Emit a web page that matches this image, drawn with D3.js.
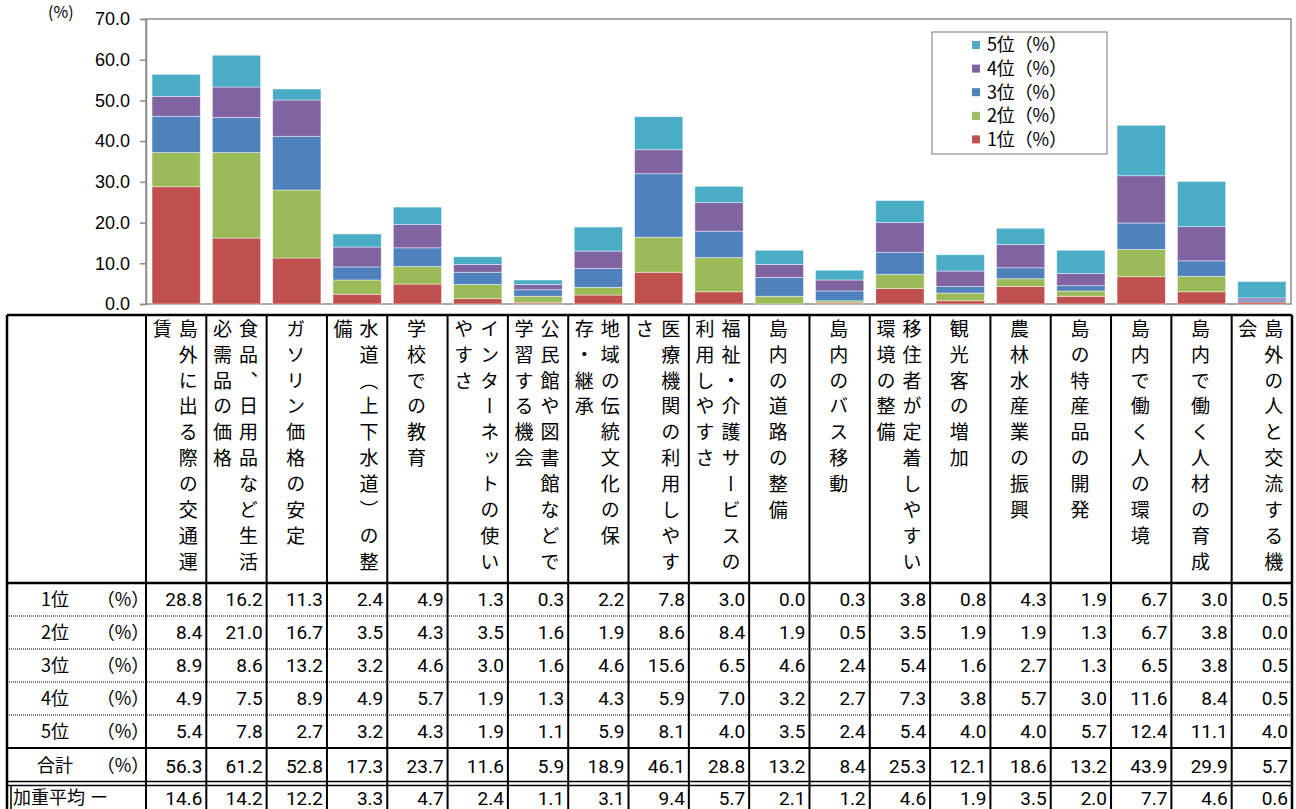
<!DOCTYPE html>
<html><head><meta charset="utf-8">
<script src="https://cdn.jsdelivr.net/npm/d3@7"></script>
<style>
body{margin:0;background:#fff;}
svg{display:block;}
</style></head>
<body>
<svg id="c" width="1296" height="809"></svg>
<script>
const labelLines = [
 ["島外に出る際の交通運","賃"],
 ["食品、日用品など生活","必需品の価格"],
 ["ガソリン価格の安定"],
 ["水道（上下水道）の整","備"],
 ["学校での教育"],
 ["インターネットの使い","やすさ"],
 ["公民館や図書館などで","学習する機会"],
 ["地域の伝統文化の保","存・継承"],
 ["医療機関の利用しやす","さ"],
 ["福祉・介護サービスの","利用しやすさ"],
 ["島内の道路の整備"],
 ["島内のバス移動"],
 ["移住者が定着しやすい","環境の整備"],
 ["観光客の増加"],
 ["農林水産業の振興"],
 ["島の特産品の開発"],
 ["島内で働く人の環境"],
 ["島内で働く人材の育成"],
 ["島外の人と交流する機","会"]
];
const categories = labelLines.map(d => d.join(""));
const rank1 = [28.8,16.2,11.3,2.4,4.9,1.3,0.3,2.2,7.8,3.0,0.0,0.3,3.8,0.8,4.3,1.9,6.7,3.0,0.5];
const rank2 = [8.4,21.0,16.7,3.5,4.3,3.5,1.6,1.9,8.6,8.4,1.9,0.5,3.5,1.9,1.9,1.3,6.7,3.8,0.0];
const rank3 = [8.9,8.6,13.2,3.2,4.6,3.0,1.6,4.6,15.6,6.5,4.6,2.4,5.4,1.6,2.7,1.3,6.5,3.8,0.5];
const rank4 = [4.9,7.5,8.9,4.9,5.7,1.9,1.3,4.3,5.9,7.0,3.2,2.7,7.3,3.8,5.7,3.0,11.6,8.4,0.5];
const rank5 = [5.4,7.8,2.7,3.2,4.3,1.9,1.1,5.9,8.1,4.0,3.5,2.4,5.4,4.0,4.0,5.7,12.4,11.1,4.0];
const totals = [56.3,61.2,52.8,17.3,23.7,11.6,5.9,18.9,46.1,28.8,13.2,8.4,25.3,12.1,18.6,13.2,43.9,29.9,5.7];
const weighted = [14.6,14.2,12.2,3.3,4.7,2.4,1.1,3.1,9.4,5.7,2.1,1.2,4.6,1.9,3.5,2.0,7.7,4.6,0.6];
const seriesNames = ["1位（%）","2位（%）","3位（%）","4位（%）","5位（%）"];
const seriesColors = ["#C0504D","#9BBB59","#4F81BD","#8064A2","#4BACC6"];
const yTicks = [0,10,20,30,40,50,60,70];
const rowHeads = [["1位","（%）"],["2位","（%）"],["3位","（%）"],["4位","（%）"],["5位","（%）"],["合計","（%）"],["加重平均","ー"]];

(function(){
const svg = d3.select("#c");
const jp = "'Noto Sans CJK JP', sans-serif";
const num = "Roboto,'Liberation Sans',sans-serif";

const pL = 146, pR = 1292, pT = 19, pB = 304;
const x = d3.scaleBand().domain(categories).range([pL, pR]).paddingInner(0.2).paddingOuter(0.1);
const y = d3.scaleLinear().domain([0,70]).range([pB, pT]);

svg.append("rect").attr("x", pL).attr("y", pT).attr("width", 1291-pL).attr("height", pB-pT)
  .attr("fill","none").attr("stroke","#8c8c8c").attr("stroke-width",1.5);

const yAxis = svg.append("g").attr("transform",`translate(${pL},0)`)
  .call(d3.axisLeft(y).tickValues(yTicks).tickFormat(d3.format(".1f")).tickSize(6).tickPadding(10));
yAxis.select(".domain").attr("stroke","#8c8c8c").attr("stroke-width",1.5);
yAxis.selectAll(".tick line").attr("stroke","#8c8c8c").attr("stroke-width",1.5);
yAxis.selectAll(".tick text").attr("font-family","'Liberation Sans',Arial,sans-serif").attr("font-size",18).attr("fill","#000");

svg.append("text").attr("x",48).attr("y",18).attr("font-family",jp).attr("font-size",16).text("(%)");

const rows = categories.map((c,i)=>({cat:c, r0:rank1[i], r1:rank2[i], r2:rank3[i], r3:rank4[i], r4:rank5[i]}));
const stack = d3.stack().keys(["r0","r1","r2","r3","r4"])(rows);
svg.append("g").selectAll("g").data(stack).join("g")
  .attr("fill",(d,i)=>seriesColors[i])
  .selectAll("rect").data(d=>d).join("rect")
  .attr("x",d=>x(d.data.cat)).attr("width",x.bandwidth())
  .attr("y",d=>y(d[1])).attr("height",d=>Math.max(0,y(d[0])-y(d[1])))
  .attr("stroke","#ffffff").attr("stroke-opacity",0.55).attr("stroke-width",0.8);

const lg = svg.append("g");
lg.append("rect").attr("x",932).attr("y",32).attr("width",175).attr("height",122)
  .attr("fill","#fff").attr("stroke","#8c8c8c").attr("stroke-width",1.2);
[4,3,2,1,0].forEach((si,k)=>{
  const yy = 45 + k*23.6;
  lg.append("rect").attr("x",972).attr("y",yy-4).attr("width",8).attr("height",8).attr("fill",seriesColors[si]);
  lg.append("text").attr("x",987).attr("y",yy).attr("dy","0.36em").attr("font-family",jp).attr("font-size",18)
    .attr("textLength",80).attr("lengthAdjust","spacing").text(seriesNames[si]);
});

const tL = 7, colStart = pL, tR = pR;
const hTop = 315, hBot = 583;
const rowY = [583,616,649,682,715,748,784,818];
const tbl = svg.append("g");
const step = x.step();
const colEdges = d3.range(categories.length+1).map(i => colStart + i*step);

labelLines.forEach((lines,i)=>{
  const cx = colStart + (i+0.5)*step;
  const xs = lines.length===1 ? [cx-1] : [cx+12, cx-14];
  lines.forEach((t,j)=>{
    tbl.append("text").attr("x",xs[j]).attr("y",319)
      .style("writing-mode","vertical-rl").style("text-orientation","mixed")
      .attr("font-family",jp).attr("font-size",19).attr("letter-spacing",6.9)
      .attr("fill","#000").text(t);
  });
});

const tableRows = [rank1,rank2,rank3,rank4,rank5,totals,weighted];
tableRows.forEach((arr,r)=>{
  const cy = r<6 ? (rowY[r]+rowY[r+1])/2 : 798;
  const h = rowHeads[r];
  if (r<6){
    tbl.append("text").attr("x",55).attr("y",cy).attr("dy","0.36em").attr("text-anchor","middle")
      .attr("font-family",jp).attr("font-size",18).text(h[0]);
    tbl.append("text").attr("x",123).attr("y",cy).attr("dy","0.36em").attr("text-anchor","middle")
      .attr("font-family",jp).attr("font-size",18).text(h[1]);
  } else {
    tbl.append("text").attr("x",13).attr("y",cy).attr("dy","0.36em")
      .attr("font-family",jp).attr("font-size",18).text(h[0]);
    tbl.append("text").attr("x",99).attr("y",cy).attr("dy","0.36em").attr("text-anchor","middle")
      .attr("font-family",jp).attr("font-size",18).text(h[1]);
  }
  arr.forEach((v,i)=>{
    tbl.append("text").attr("x",colEdges[i+1]-4).attr("y",cy).attr("dy","0.36em").attr("text-anchor","end")
      .attr("font-family",num).attr("font-size",19).attr("fill","#000").text(v.toFixed(1));
  });
});

const blk = (x1,y1,x2,y2,w=2)=>tbl.append("line").attr("x1",x1).attr("y1",y1).attr("x2",x2).attr("y2",y2).attr("stroke","#000").attr("stroke-width",w);
blk(tL,hTop,tR,hTop,2.5);
blk(tL,hBot,tR,hBot,2.5);
[616,649,682,715].forEach(yy=>{
  tbl.append("line").attr("x1",tL).attr("x2",tR).attr("y1",yy).attr("y2",yy)
    .attr("stroke","#7f7f7f").attr("stroke-width",2).attr("stroke-dasharray","1,1");
});
blk(tL,748,tR,748,2);
blk(tL,781.5,tR,781.5,1.5);
blk(tL,785.5,tR,785.5,1.5);
blk(tL,hTop,tL,809,2.5);
blk(tL+4,786,tL+4,809,1.5);
colEdges.forEach((cx,i)=>{
  blk(cx,hTop,cx,809, i===colEdges.length-1 ? 2.5 : 2);
});
})();
</script>
</body></html>
